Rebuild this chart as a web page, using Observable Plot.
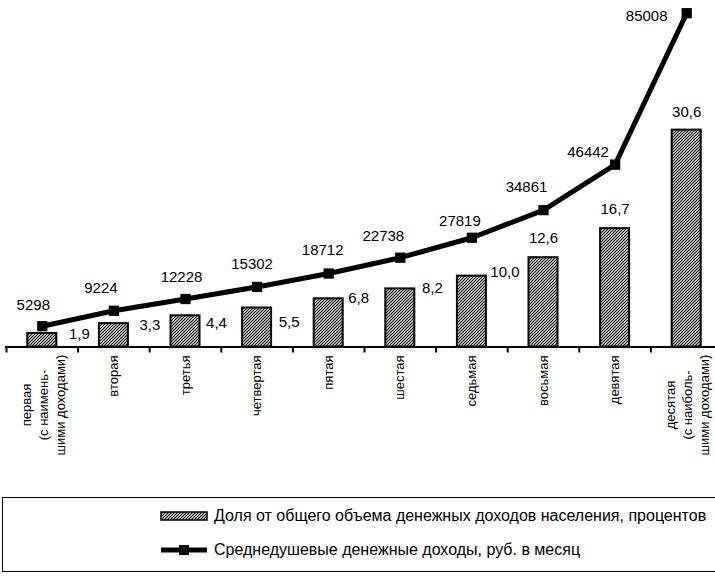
<!DOCTYPE html>
<html><head><meta charset="utf-8">
<script src="https://cdn.jsdelivr.net/npm/d3@7"></script>
<script src="https://cdn.jsdelivr.net/npm/@observablehq/plot@0.6"></script>
<style>
body{margin:0;background:#fff;font-family:"Liberation Sans",Arial,sans-serif;}
#wrap{position:relative;width:715px;height:578px;overflow:hidden;background:#fff;}
#chart{position:absolute;left:0;top:0;}
#legend{position:absolute;left:2px;top:497px;width:730px;height:75px;border:1.5px solid #000;box-sizing:border-box;}
.row{position:absolute;left:156px;height:20px;display:flex;align-items:center;font-size:16px;color:#000;white-space:nowrap;}
.row svg{margin-right:5px;}
</style></head>
<body><div id="wrap"><div id="chart"></div><div id="legend"></div></div>
<script>
// ---- data ----
const groups = ["первая\n(с наимень-\nшими доходами)", "вторая", "третья", "четвертая", "пятая", "шестая", "седьмая", "восьмая", "девятая", "десятая\n(с наиболь-\nшими доходами)"];
const sharePct = [1.9, 3.3, 4.4, 5.5, 6.8, 8.2, 10.0, 12.6, 16.7, 30.6];
const incomeRub = [5298, 9224, 12228, 15302, 18712, 22738, 27819, 34861, 46442, 85008];
const seriesNames = ["Доля от общего объема денежных доходов населения, процентов", "Среднедушевые денежные доходы, руб. в месяц"];

// ---- layout helpers (not data) ----
const rows = groups.map((g, i) => ({i, g, pct: sharePct[i], inc: incomeRub[i]}));
const yMax = d3.max(incomeRub);
const pctAtTop = 47.1;            // secondary-axis maximum matching yMax
const k = yMax / pctAtTop;
const fmtPct = v => d3.format(".1f")(v).replace(".", ",");
const incOffsets = [[-9,-21],[-13,-23],[-4,-22],[-5,-23],[-6,-23],[-17,-22],[-12,-17],[-17,-23],[-27,-12],[-40,3]];
const pctOffsets = [[37,1],[36,2],[31,7],[32,14],[30,-1],[32,-1],[33,-4],[0,-20],[0,-19],[0,-18]];
const xc = d => d.i + 0.5;
const multi = rows.filter(d => d.g.includes("\n"));
const single = rows.filter(d => !d.g.includes("\n"));

const marks = [
  Plot.rectY(rows, {x1: d => d.i, x2: d => d.i + 1, y1: 0, y2: d => d.pct * k,
    insetLeft: 21.3, insetRight: 21.3, fill: "url(#hatch)", stroke: "#000", strokeWidth: 2}),
  Plot.ruleY([0], {stroke: "#000", strokeWidth: 2}),
  Plot.axisX({ticks: d3.range(11), tickSize: 6, tickFormat: () => "", label: null, stroke: "#000", strokeWidth: 2}),
  Plot.line(rows, {x: xc, y: "inc", stroke: "#000", strokeWidth: 5}),
  Plot.dot(rows, {x: xc, y: "inc", symbol: "square", r: 5.8, fill: "#000", stroke: null}),
  ...rows.map((d, j) => Plot.text([d], {x: xc, y: "inc", text: r => String(r.inc),
    dx: incOffsets[j][0], dy: incOffsets[j][1], fontSize: 15, fill: "#000"})),
  ...rows.map((d, j) => Plot.text([d], {x: xc, y: r => r.pct * k, text: r => fmtPct(r.pct),
    dx: pctOffsets[j][0], dy: pctOffsets[j][1], fontSize: 15, fill: "#000"})),
  Plot.text(single, {x: xc, y: 0, text: "g", rotate: -90, textAnchor: "end", dy: 8.5, fontSize: 13, fill: "#000"}),
  Plot.text(multi, {x: xc, y: 0, text: "g", rotate: -90, textAnchor: "middle", lineHeight: 1.3, dy: 58, fontSize: 13, fill: "#000"})
];

const svg = Plot.plot({
  width: 715, height: 495,
  marginLeft: 5, marginRight: 0, marginTop: 12.7, marginBottom: 148.5,
  style: {fontFamily: '"Liberation Sans", Arial, sans-serif', background: "#fff", overflow: "visible"},
  x: {type: "linear", domain: [0, 10], range: [6, 722]},
  y: {domain: [0, yMax], axis: null},
  marks
});
const defs = d3.select(svg).insert("defs", ":first-child");
function addHatch(sel, id) {
  const p = sel.append("pattern").attr("id", id).attr("patternUnits", "userSpaceOnUse").attr("width", 3).attr("height", 3);
  p.append("rect").attr("width", 3).attr("height", 3).attr("fill", "#fff");
  p.append("path").attr("d", "M-1,1 l2,-2 M0,3 l3,-3 M2,4 l2,-2").attr("stroke", "#000").attr("stroke-width", 1.1);
}
addHatch(defs, "hatch");
document.getElementById("chart").appendChild(svg);

// ---- legend ----
const leg = d3.select("#legend");
const r1 = leg.append("div").attr("class", "row").style("top", "8px");
const s1 = r1.append("svg").attr("width", 50).attr("height", 12);
addHatch(s1.append("defs"), "hatch2");
s1.append("rect").attr("x", 2).attr("y", 2).attr("width", 46).attr("height", 8).attr("fill", "url(#hatch2)").attr("stroke", "#000").attr("stroke-width", 1.5);
r1.append("span").text(seriesNames[0]);
const r2 = leg.append("div").attr("class", "row").style("top", "42px");
const s2 = r2.append("svg").attr("width", 50).attr("height", 12);
s2.append("line").attr("x1", 2).attr("x2", 48).attr("y1", 6).attr("y2", 6).attr("stroke", "#000").attr("stroke-width", 5);
s2.append("rect").attr("x", 20).attr("y", 1).attr("width", 10).attr("height", 10).attr("fill", "#000");
r2.append("span").text(seriesNames[1]);
</script>
</body></html>
